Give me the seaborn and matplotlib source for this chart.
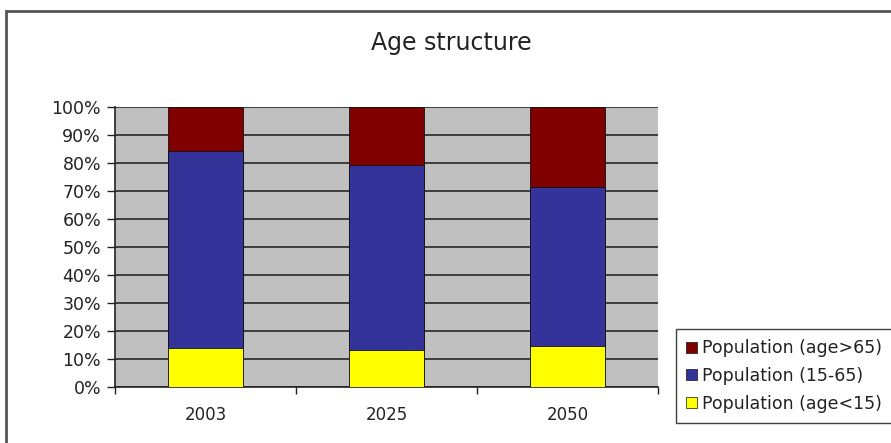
import matplotlib
matplotlib.use("Agg")
import matplotlib.pyplot as plt
from matplotlib.patches import Patch, Rectangle
import pandas as pd
import seaborn as sns

# Age structure shares (percent of population)
years = ["2003", "2025", "2050"]
under15 = [13.9, 13.2, 14.6]
age15_65 = [70.4, 66.1, 56.8]
over65 = [15.7, 20.7, 28.6]

series_labels = ["Population (age>65)", "Population (15-65)", "Population (age<15)"]
series_colors = ["#800000", "#333399", "#ffff00"]
y_ticks = list(range(0, 101, 10))
y_tick_labels = [f"{t}%" for t in y_ticks]

sns.set_theme(style="white")
plt.rcParams["font.family"] = ["DejaVu Sans"]

df = pd.DataFrame({"year": years, "u15": under15, "mid": age15_65, "o65": over65})
df["top_mid"] = df["u15"] + df["mid"]
df["top_all"] = df["top_mid"] + df["o65"]

fig = plt.figure(figsize=(8.91, 4.43), dpi=100)
fig.patch.set_facecolor("white")
ax = fig.add_axes([115 / 891, 1 - 387 / 443, 543 / 891, 280 / 443])
ax.set_facecolor("#c0c0c0")

# stacked columns: draw cumulative totals from the top layer down
for col, color in zip(["top_all", "top_mid", "u15"], series_colors):
    sns.barplot(data=df, x="year", y=col, color=color, width=0.41,
                edgecolor="#111111", linewidth=0.6, saturation=1, ax=ax, zorder=3)

ax.set_xlim(-0.5, 2.5)
ax.set_ylim(0, 100)
ax.set_yticks(y_ticks)
ax.set_yticklabels(y_tick_labels, fontsize=12.5, color="#222222")
ax.set_xticks([0, 1, 2])
ax.set_xticklabels(years, fontsize=12, color="#222222")
ax.set_xlabel("")
ax.set_ylabel("")

# horizontal gridlines
ax.yaxis.grid(True, color="#1a1a1a", linewidth=1.1, zorder=1)
ax.set_axisbelow(True)

# category boundary ticks on the x axis
ax.set_xticks([-0.5, 0.5, 1.5, 2.5], minor=True)
ax.tick_params(axis="x", which="major", length=0, pad=14)
ax.tick_params(axis="x", which="minor", length=5, width=1, color="#222222", direction="out")
ax.tick_params(axis="y", which="major", length=6, width=1, color="#222222", direction="out", pad=4)
ax.tick_params(axis="y", left=True)
ax.tick_params(axis="x", bottom=True, which="minor")

for side in ["top", "right"]:
    ax.spines[side].set_visible(False)
for side in ["left", "bottom"]:
    ax.spines[side].set_color("#222222")
    ax.spines[side].set_linewidth(1.2)

fig.text(451 / 891, 1 - 43 / 443, "Age structure", ha="center", va="center",
         fontsize=17, color="#222222")

handles = [Patch(facecolor=c, edgecolor="#111111", linewidth=0.5) for c in series_colors]
leg = fig.legend(handles, series_labels, loc="upper left",
                 bbox_to_anchor=(676 / 891, 1 - 329 / 443), fontsize=12.5,
                 frameon=True, fancybox=False, edgecolor="#111111",
                 handlelength=0.6, handleheight=0.6, handletextpad=0.3,
                 borderpad=0.6, labelspacing=0.55, borderaxespad=0)
leg.get_frame().set_linewidth(1.0)
for t in leg.get_texts():
    t.set_color("#222222")

# outer chart frame
fig.add_artist(Rectangle((6 / 891, -0.1), 1.2, 1.1 - 11 / 443,
                         transform=fig.transFigure, fill=False,
                         edgecolor="#555555", linewidth=2, clip_on=False))

fig.savefig("out.png", dpi=100, facecolor="white")
